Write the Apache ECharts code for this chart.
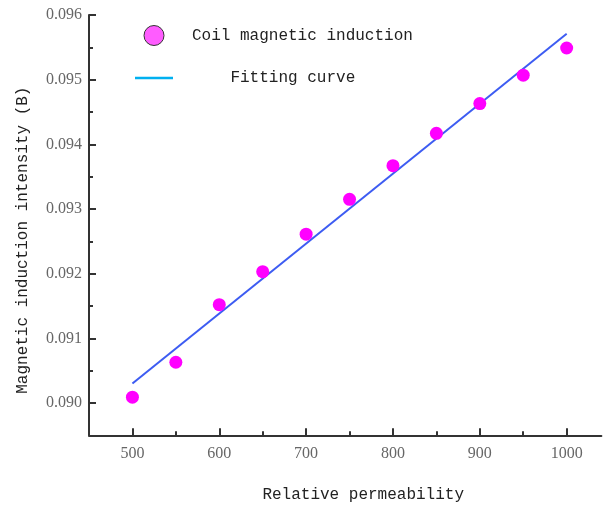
<!DOCTYPE html>
<html>
<head>
<meta charset="utf-8">
<script src="https://cdn.jsdelivr.net/npm/echarts@6/dist/echarts.min.js"></script>
<style>
  html, body { margin: 0; padding: 0; background: #fff; }
  #chart { width: 605px; height: 508px; }
</style>
</head>
<body>
<div id="chart"></div>
<script>
  // measured points
  var permeability = [500, 550, 600, 650, 700, 750, 800, 850, 900, 950, 1000];
  var induction = [0.09009, 0.09063, 0.09152, 0.09203, 0.09261, 0.09315, 0.09367, 0.09417, 0.09463, 0.09507, 0.09549];
  // fitted line end points
  var fitX = [500, 1000];
  var fitY = [0.09030, 0.09571];
  // tick values
  var xMajor = [500, 600, 700, 800, 900, 1000];
  var xMinor = [550, 650, 750, 850, 950];
  var yMajor = [0.090, 0.091, 0.092, 0.093, 0.094, 0.095, 0.096];
  var yMinor = [0.0895, 0.0905, 0.0915, 0.0925, 0.0935, 0.0945, 0.0955];

  var monoFont = '"Liberation Mono", monospace';
  var serifFont = '"Liberation Serif", serif';
  var axisColor = '#333';

  var chart = echarts.init(document.getElementById('chart'));

  var pts = permeability.map(function (x, i) { return [x, induction[i]]; });
  var fit = fitX.map(function (x, i) { return [x, fitY[i]]; });

  var option = {
    animation: false,
    grid: { left: 89, right: 3.6, top: 15, bottom: 72.7 },
    legend: {
      orient: 'vertical',
      left: 130,
      top: 20,
      itemWidth: 38,
      itemHeight: 20,
      itemGap: 24,
      textStyle: { fontFamily: monoFont, fontSize: 16, color: '#222', padding: [0, 0, 0, 14] },
      formatter: function (name) {
        return name === 'Fitting curve' ? '    ' + name : name;
      },
      data: [
        { name: 'Coil magnetic induction', icon: 'circle',
          itemStyle: { color: '#ff5cff', borderColor: '#333', borderWidth: 1 } },
        { name: 'Fitting curve',
          icon: 'path://M0,0H38V2.5H0Z',
          itemStyle: { color: '#00b0f0', borderWidth: 0 } }
      ]
    },
    xAxis: [
      {
        type: 'value', min: 450, max: 1040,
        name: 'Relative permeability',
        nameLocation: 'middle',
        nameGap: 51,
        nameTextStyle: { fontFamily: monoFont, fontSize: 16, color: '#222', padding: [0, 0, 0, 36] },
        axisLine: { show: true, lineStyle: { color: axisColor, width: 2 } },
        axisTick: { show: true, inside: true, length: 7, customValues: xMajor, lineStyle: { color: axisColor, width: 2 } },
        axisLabel: {
          customValues: xMajor, margin: 10, fontFamily: serifFont, fontSize: 16, color: '#666',
          formatter: function (v) { return String(v); }
        },
        splitLine: { show: false }
      },
      {
        type: 'value', min: 450, max: 1040, position: 'bottom',
        axisLine: { show: false },
        axisTick: { show: true, inside: true, length: 4, customValues: xMinor, lineStyle: { color: axisColor, width: 2 } },
        axisLabel: { show: false },
        splitLine: { show: false }
      }
    ],
    yAxis: [
      {
        type: 'value', min: 0.0895, max: 0.096,
        name: 'Magnetic induction intensity (B)',
        nameLocation: 'middle',
        nameGap: 58,
        nameTextStyle: { fontFamily: monoFont, fontSize: 16, color: '#222', padding: [0, 30, 0, 0] },
        axisLine: { show: true, lineStyle: { color: axisColor, width: 2 } },
        axisTick: { show: true, inside: true, length: 7, customValues: yMajor, lineStyle: { color: axisColor, width: 2 } },
        axisLabel: {
          customValues: yMajor, margin: 7, fontFamily: serifFont, fontSize: 16, color: '#666',
          formatter: function (v) { return v.toFixed(3); }
        },
        splitLine: { show: false }
      },
      {
        type: 'value', min: 0.0895, max: 0.096, position: 'left',
        axisLine: { show: false },
        axisTick: { show: true, inside: true, length: 4, customValues: yMinor, lineStyle: { color: axisColor, width: 2 } },
        axisLabel: { show: false },
        splitLine: { show: false }
      }
    ],
    series: [
      {
        name: 'Coil magnetic induction',
        type: 'scatter',
        data: pts,
        symbol: 'circle',
        symbolSize: 13,
        itemStyle: { color: '#ff00ff', opacity: 1 },
        z: 3
      },
      {
        name: 'Fitting curve',
        type: 'line',
        data: fit,
        showSymbol: false,
        symbol: 'none',
        lineStyle: { color: '#3d5cf2', width: 2 },
        z: 2
      }
    ]
  };

  option && chart.setOption(option);
</script>
</body>
</html>
